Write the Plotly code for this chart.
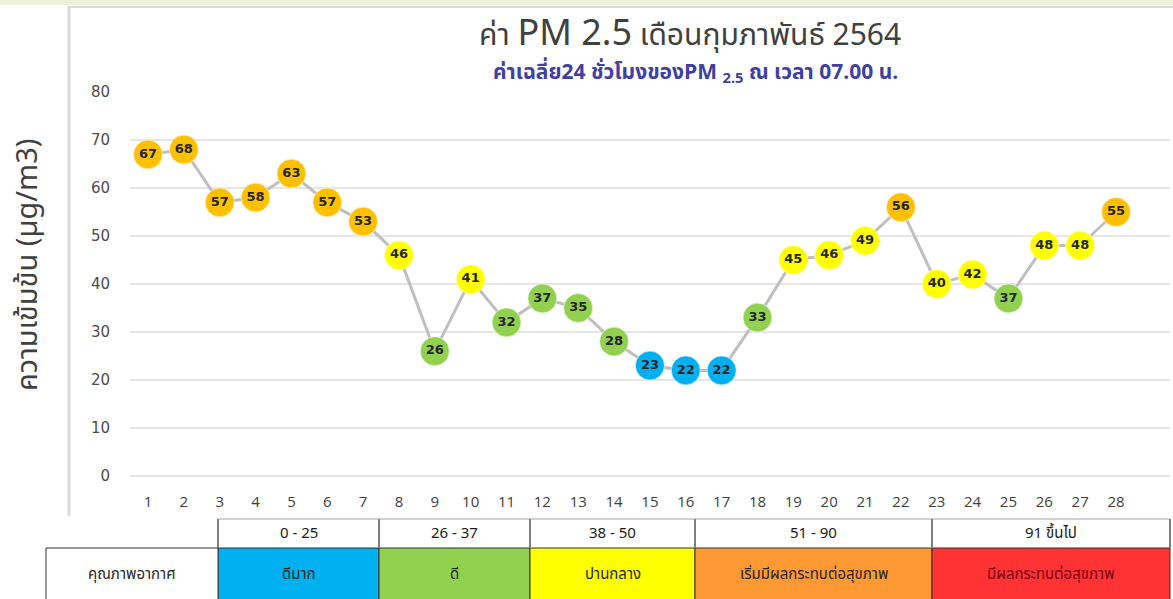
import plotly.graph_objects as go

W, H = 1173, 599

days = list(range(1, 29))
pm25 = [67, 68, 57, 58, 63, 57, 53, 46, 26, 41, 32, 37, 35, 28, 23, 22, 22,
        33, 45, 46, 49, 56, 40, 42, 37, 48, 48, 55]
y_ticks = [0, 10, 20, 30, 40, 50, 60, 70, 80]

band_ranges = ["0 - 25", "26 - 37", "38 - 50", "51 - 90", "91 ขึ้นไป"]
band_labels = ["ดีมาก", "ดี", "ปานกลาง", "เริ่มมีผลกระทบต่อสุขภาพ", "มีผลกระทบต่อสุขภาพ"]
band_upper = [25, 37, 50, 90, 10**9]
band_colors = ["#00B0F0", "#92D050", "#FFFF00", "#FF9933", "#FF3333"]
marker_colors = ["#00B0F0", "#92D050", "#FFFF00", "#FFC000", "#FF3333"]
quality_label = "คุณภาพอากาศ"

THAI = "Noto Sans Thai, Tahoma, Noto Sans, DejaVu Sans, sans-serif"


def px(x):
    return x / W


def py(y):
    return 1 - y / H


def color_for(v):
    for up, c in zip(band_upper, marker_colors):
        if v <= up:
            return c
    return marker_colors[-1]


mcols = [color_for(v) for v in pm25]

fig = go.Figure()
fig.add_trace(go.Scatter(
    x=days, y=pm25, mode="lines", line=dict(color="#BFBFBF", width=3),
    hoverinfo="skip", showlegend=False, cliponaxis=False))
fig.add_trace(go.Scatter(
    x=days, y=pm25, mode="markers+text", text=[str(v) for v in pm25],
    textposition="middle center",
    textfont=dict(family="DejaVu Sans, Verdana, sans-serif", size=13, color="#262626",
                  weight="bold"),
    marker=dict(size=29, color=mcols, line=dict(width=1, color="rgba(255,255,255,0.6)")),
    showlegend=False, cliponaxis=False))

# plot area pixels
x_left, x_right = 130, 1170
y_top, y_bot = 92, 480
x1_px, x28_px = 148, 1116
step = (x28_px - x1_px) / 27
xr = [1 - (x1_px - x_left) / step, 28 + (x_right - x28_px) / step]
yscale = (476 - 92) / 80
yr = [-(y_bot - 476) / yscale, 80]

fig.update_layout(
    width=W, height=H, margin=dict(l=0, r=0, t=0, b=0, pad=0),
    paper_bgcolor="white", plot_bgcolor="white",
    xaxis=dict(domain=[px(x_left), px(x_right)], range=xr, tickmode="array",
               tickvals=days, ticktext=[str(d) for d in days], showgrid=False,
               zeroline=False, showline=False, ticks="outside", ticklen=8,
               tickcolor="rgba(0,0,0,0)", automargin=False,
               tickfont=dict(family="Open Sans, DejaVu Sans, sans-serif", size=15, color="#404040")),
    yaxis=dict(domain=[py(y_bot), py(y_top)], range=yr, tickmode="array",
               tickvals=y_ticks, showgrid=True, gridcolor="#E6E6E6", gridwidth=2,
               zeroline=False, showline=False, ticks="outside", ticklen=16,
               tickcolor="rgba(0,0,0,0)", automargin=False,
               tickfont=dict(family="DejaVu Sans, Verdana, sans-serif", size=15, color="#4d4d4d")),
    font=dict(family=THAI),
)

shapes = []
# top beige band and frame lines
shapes.append(dict(type="rect", xref="paper", yref="paper", x0=0, x1=1, y0=py(5), y1=1,
                   fillcolor="#EEF1D9", line=dict(width=0), layer="below"))
shapes.append(dict(type="line", xref="paper", yref="paper", x0=px(68), x1=1, y0=py(7), y1=py(7),
                   line=dict(color="#DADADA", width=2)))
shapes.append(dict(type="line", xref="paper", yref="paper", x0=px(69), x1=px(69), y0=py(6), y1=py(516),
                   line=dict(color="#DADADA", width=3)))

# table
col_edges = [218, 379, 530, 695, 932, 1170]
r1_top, r2_top, r2_bot = 519, 548, 605
shapes.append(dict(type="line", xref="paper", yref="paper", x0=px(col_edges[0]), x1=px(col_edges[-1]),
                   y0=py(r1_top), y1=py(r1_top), line=dict(color="#D0D0D0", width=2)))
for i in range(len(band_ranges)):
    x0, x1 = col_edges[i], col_edges[i + 1]
    shapes.append(dict(type="rect", xref="paper", yref="paper", x0=px(x0), x1=px(x1),
                       y0=py(r2_bot), y1=py(r2_top), fillcolor=band_colors[i],
                       line=dict(color="#333333", width=1)))
for xe in col_edges:
    shapes.append(dict(type="line", xref="paper", yref="paper", x0=px(xe), x1=px(xe),
                       y0=py(r1_top), y1=py(r2_top), line=dict(color="#808080", width=2)))
shapes.append(dict(type="rect", xref="paper", yref="paper", x0=px(46), x1=px(col_edges[0]),
                   y0=py(r2_bot), y1=py(r2_top), fillcolor="white",
                   line=dict(color="#333333", width=1)))


def ann(x, y, text, size, color, **kw):
    d = dict(xref="paper", yref="paper", x=px(x), y=py(y), text=text, showarrow=False,
             xanchor="center", yanchor="middle",
             font=dict(family=THAI, size=size, color=color))
    d.update(kw)
    return d


annotations = []
for i, (rg, lb) in enumerate(zip(band_ranges, band_labels)):
    xc = (col_edges[i] + col_edges[i + 1]) / 2
    annotations.append(ann(xc, 533, rg, 15, "#1a1a1a"))
    annotations.append(ann(xc, 574, lb, 15, "#7a0010" if i == 4 else "#262626"))
annotations.append(ann(132, 574, quality_label, 15, "#262626"))

# titles
annotations.append(ann(690, 34, "ค่า <span style='font-size:36px'>PM 2.5</span> เดือนกุมภาพันธ์ 2564",
                       30, "#404040"))
annotations.append(ann(695, 74, "<b>ค่าเฉลี่ย24 ชั่วโมงของPM <sub>2.5</sub> ณ เวลา 07.00 น.</b>",
                       21, "#4040A0"))
annotations.append(ann(28, 265, "ความเข้มข้น (µg/m3)", 29, "#404040", textangle=-90))

fig.update_layout(shapes=shapes, annotations=annotations)
fig.write_html("out.html", config={"displayModeBar": False},
               post_script="document.body.style.margin='0';document.body.style.overflow='hidden';")
